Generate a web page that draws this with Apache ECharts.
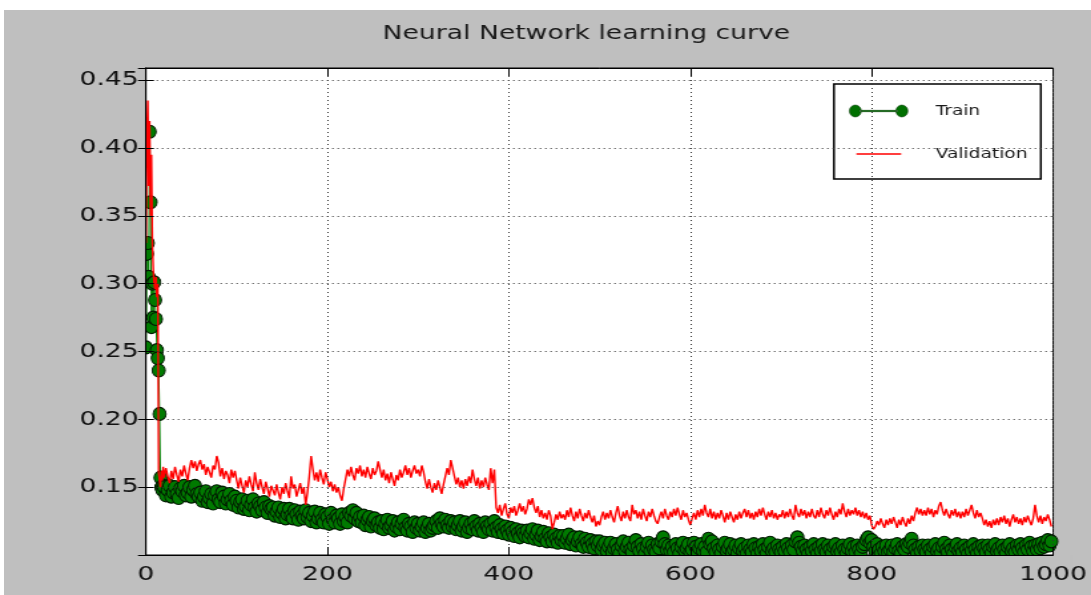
<!DOCTYPE html>
<html><head><meta charset="utf-8">
<script src="https://cdn.jsdelivr.net/npm/echarts@6/dist/echarts.min.js"></script>
<style>html,body{margin:0;padding:0;background:#fff;width:1091px;height:595px;overflow:hidden}
#c{position:absolute;left:4px;top:10px;width:817px;height:585px;transform:scaleX(1.33048);transform-origin:0 0}</style>
</head><body><div id="c"></div><script>
const epochs=[0,1,2,3,4,5,6,7,8,9,10,11,12,13,14,15,16,17,18,19,
20,22,24,26,28,30,32,34,36,38,40,42,44,46,48,50,52,54,56,58,
60,62,64,66,68,70,72,74,76,78,80,82,84,86,88,90,92,94,96,98,
100,102,104,106,108,110,112,114,116,118,120,122,124,126,128,130,132,134,136,138,
140,142,144,146,148,150,152,154,156,158,160,162,164,166,168,170,172,174,176,178,
180,182,184,186,188,190,192,194,196,198,200,202,204,206,208,210,212,214,216,218,
220,222,224,226,228,230,232,234,236,238,240,242,244,246,248,250,252,254,256,258,
260,262,264,266,268,270,272,274,276,278,280,282,284,286,288,290,292,294,296,298,
300,302,304,306,308,310,312,314,316,318,320,322,324,326,328,330,332,334,336,338,
340,342,344,346,348,350,352,354,356,358,360,362,364,366,368,370,372,374,376,378,
380,382,384,386,388,390,392,394,396,398,400,402,404,406,408,410,412,414,416,418,
420,422,424,426,428,430,432,434,436,438,440,442,444,446,448,450,452,454,456,458,
460,462,464,466,468,470,472,474,476,478,480,482,484,486,488,490,492,494,496,498,
500,502,504,506,508,510,512,514,516,518,520,522,524,526,528,530,532,534,536,538,
540,542,544,546,548,550,552,554,556,558,560,562,564,566,568,570,572,574,576,578,
580,582,584,586,588,590,592,594,596,598,600,602,604,606,608,610,612,614,616,618,
620,622,624,626,628,630,632,634,636,638,640,642,644,646,648,650,652,654,656,658,
660,662,664,666,668,670,672,674,676,678,680,682,684,686,688,690,692,694,696,698,
700,702,704,706,708,710,712,714,716,718,720,722,724,726,728,730,732,734,736,738,
740,742,744,746,748,750,752,754,756,758,760,762,764,766,768,770,772,774,776,778,
780,782,784,786,788,790,792,794,796,798,800,802,804,806,808,810,812,814,816,818,
820,822,824,826,828,830,832,834,836,838,840,842,844,846,848,850,852,854,856,858,
860,862,864,866,868,870,872,874,876,878,880,882,884,886,888,890,892,894,896,898,
900,902,904,906,908,910,912,914,916,918,920,922,924,926,928,930,932,934,936,938,
940,942,944,946,948,950,952,954,956,958,960,962,964,966,968,970,972,974,976,978,
980,982,984,986,988,990,992,994,996,998];

const trainLoss=[0.253,0.322,0.330,0.305,0.412,0.360,0.268,0.300,0.275,0.301,0.288,0.274,0.251,0.245,0.236,0.204,0.157,0.150,0.148,0.151,
0.150,0.144,0.148,0.151,0.143,0.146,0.150,0.145,0.142,0.149,0.147,0.151,0.144,0.146,0.150,0.143,0.148,0.151,0.145,0.143,
0.146,0.140,0.143,0.147,0.139,0.142,0.145,0.138,0.144,0.147,0.141,0.139,0.146,0.143,0.138,0.141,0.145,0.140,0.137,0.143,
0.140,0.135,0.139,0.141,0.134,0.136,0.140,0.133,0.137,0.141,0.135,0.132,0.138,0.136,0.133,0.139,0.135,0.131,0.136,0.134,
0.135,0.129,0.132,0.135,0.128,0.131,0.134,0.127,0.130,0.134,0.129,0.127,0.133,0.130,0.126,0.132,0.129,0.127,0.133,0.128,
0.131,0.125,0.129,0.132,0.124,0.127,0.131,0.126,0.124,0.130,0.128,0.123,0.131,0.126,0.124,0.129,0.127,0.123,0.130,0.125,
0.128,0.124,0.131,0.129,0.133,0.127,0.131,0.125,0.128,0.124,0.129,0.122,0.126,0.128,0.121,0.125,0.127,0.122,0.124,0.120,
0.125,0.119,0.123,0.126,0.120,0.122,0.125,0.118,0.121,0.124,0.119,0.123,0.126,0.120,0.118,0.123,0.121,0.117,0.124,0.120,
0.123,0.118,0.121,0.124,0.117,0.120,0.123,0.118,0.120,0.122,0.125,0.120,0.127,0.123,0.121,0.126,0.122,0.120,0.125,0.121,
0.124,0.119,0.122,0.125,0.118,0.121,0.124,0.117,0.120,0.123,0.119,0.125,0.121,0.118,0.123,0.120,0.117,0.124,0.121,0.119,
0.123,0.118,0.125,0.120,0.117,0.122,0.119,0.116,0.121,0.118,0.115,0.120,0.117,0.114,0.119,0.116,0.113,0.118,0.116,0.114,
0.118,0.113,0.116,0.119,0.112,0.115,0.118,0.111,0.114,0.117,0.112,0.110,0.116,0.113,0.110,0.115,0.112,0.109,0.114,0.111,
0.114,0.109,0.112,0.115,0.108,0.111,0.113,0.107,0.110,0.113,0.108,0.106,0.112,0.109,0.106,0.111,0.108,0.105,0.110,0.107,
0.110,0.104,0.107,0.109,0.103,0.106,0.109,0.102,0.105,0.108,0.104,0.101,0.107,0.110,0.103,0.106,0.109,0.104,0.102,0.107,
0.111,0.106,0.103,0.108,0.105,0.101,0.106,0.109,0.103,0.107,0.104,0.102,0.108,0.105,0.110,0.113,0.108,0.104,0.107,0.103,
0.106,0.102,0.108,0.105,0.101,0.106,0.109,0.103,0.105,0.108,0.102,0.104,0.109,0.106,0.101,0.105,0.108,0.103,0.106,0.102,
0.112,0.108,0.110,0.105,0.102,0.107,0.104,0.101,0.106,0.109,0.103,0.105,0.108,0.102,0.104,0.107,0.101,0.105,0.108,0.103,
0.105,0.101,0.107,0.104,0.102,0.108,0.105,0.101,0.106,0.103,0.108,0.104,0.101,0.106,0.109,0.103,0.105,0.102,0.107,0.104,
0.102,0.106,0.103,0.108,0.105,0.102,0.107,0.104,0.110,0.113,0.109,0.106,0.103,0.107,0.104,0.101,0.106,0.103,0.108,0.104,
0.101,0.106,0.103,0.108,0.104,0.102,0.107,0.104,0.101,0.106,0.108,0.103,0.105,0.102,0.107,0.104,0.101,0.105,0.108,0.103,
0.106,0.102,0.107,0.104,0.101,0.106,0.108,0.111,0.113,0.109,0.111,0.106,0.103,0.108,0.104,0.101,0.106,0.103,0.107,0.102,
0.104,0.107,0.102,0.105,0.108,0.103,0.101,0.106,0.104,0.108,0.106,0.109,0.112,0.107,0.104,0.101,0.106,0.103,0.107,0.104,
0.102,0.107,0.104,0.101,0.106,0.108,0.103,0.105,0.101,0.106,0.109,0.104,0.102,0.107,0.104,0.101,0.106,0.108,0.103,0.105,
0.102,0.107,0.104,0.101,0.106,0.103,0.108,0.104,0.101,0.106,0.103,0.107,0.105,0.102,0.107,0.104,0.101,0.106,0.108,0.103,
0.105,0.102,0.107,0.104,0.101,0.106,0.108,0.103,0.105,0.102,0.107,0.104,0.108,0.105,0.102,0.107,0.104,0.109,0.106,0.103,
0.107,0.104,0.108,0.105,0.109,0.106,0.108,0.111,0.107,0.110];

const valLoss=[0.330,0.410,0.435,0.372,0.420,0.350,0.395,0.330,0.310,0.300,0.296,0.305,0.290,0.300,0.160,0.155,0.150,0.162,0.155,0.165,
0.157,0.164,0.158,0.153,0.162,0.156,0.165,0.159,0.154,0.163,0.158,0.166,0.160,0.155,0.164,0.170,0.164,0.169,0.162,0.167,
0.170,0.163,0.167,0.159,0.165,0.161,0.157,0.166,0.163,0.173,0.168,0.158,0.164,0.156,0.162,0.159,0.153,0.163,0.157,0.162,
0.155,0.149,0.157,0.151,0.146,0.155,0.150,0.158,0.152,0.147,0.161,0.153,0.148,0.156,0.150,0.145,0.154,0.149,0.143,0.151,
0.150,0.144,0.152,0.146,0.141,0.150,0.145,0.153,0.147,0.142,0.158,0.149,0.152,0.143,0.148,0.153,0.145,0.150,0.137,0.146,
0.158,0.173,0.163,0.155,0.161,0.154,0.163,0.157,0.152,0.161,0.156,0.150,0.154,0.147,0.152,0.146,0.150,0.144,0.140,0.149,
0.156,0.163,0.158,0.165,0.159,0.155,0.164,0.160,0.166,0.158,0.163,0.157,0.165,0.160,0.156,0.164,0.159,0.162,0.169,0.163,
0.157,0.163,0.155,0.160,0.153,0.161,0.156,0.151,0.159,0.155,0.163,0.157,0.161,0.166,0.159,0.164,0.157,0.162,0.166,0.160,
0.163,0.158,0.166,0.161,0.154,0.149,0.156,0.150,0.146,0.153,0.148,0.155,0.150,0.145,0.152,0.158,0.164,0.159,0.170,0.164,
0.158,0.152,0.157,0.150,0.155,0.149,0.156,0.151,0.158,0.153,0.163,0.156,0.151,0.157,0.149,0.155,0.150,0.157,0.152,0.148,
0.164,0.153,0.163,0.135,0.131,0.137,0.129,0.134,0.138,0.130,0.127,0.135,0.131,0.136,0.129,0.133,0.138,0.132,0.136,0.130,
0.134,0.141,0.137,0.142,0.135,0.131,0.136,0.128,0.133,0.127,0.131,0.126,0.133,0.129,0.119,0.124,0.130,0.126,0.132,0.127,
0.130,0.126,0.133,0.128,0.135,0.129,0.125,0.132,0.127,0.134,0.129,0.125,0.131,0.127,0.133,0.128,0.124,0.129,0.121,0.125,
0.122,0.128,0.132,0.126,0.131,0.127,0.133,0.128,0.124,0.131,0.136,0.129,0.125,0.132,0.127,0.133,0.128,0.125,0.137,0.130,
0.133,0.127,0.132,0.126,0.134,0.129,0.125,0.132,0.128,0.134,0.129,0.125,0.123,0.128,0.132,0.127,0.134,0.129,0.126,0.132,
0.128,0.134,0.129,0.135,0.130,0.126,0.133,0.128,0.131,0.126,0.122,0.127,0.131,0.126,0.133,0.128,0.134,0.129,0.137,0.131,
0.128,0.134,0.127,0.132,0.126,0.131,0.127,0.133,0.129,0.124,0.131,0.126,0.132,0.128,0.124,0.130,0.126,0.132,0.127,0.131,
0.134,0.128,0.133,0.127,0.131,0.126,0.132,0.128,0.134,0.129,0.135,0.130,0.126,0.132,0.128,0.133,0.127,0.131,0.126,0.130,
0.128,0.133,0.127,0.132,0.128,0.134,0.129,0.126,0.137,0.131,0.128,0.134,0.129,0.133,0.127,0.132,0.128,0.134,0.129,0.127,
0.133,0.128,0.135,0.130,0.127,0.133,0.129,0.135,0.130,0.126,0.132,0.128,0.134,0.130,0.138,0.132,0.128,0.134,0.129,0.133,
0.130,0.135,0.129,0.133,0.128,0.132,0.127,0.131,0.126,0.129,0.122,0.119,0.121,0.125,0.122,0.127,0.123,0.120,0.126,0.122,
0.127,0.123,0.128,0.124,0.120,0.126,0.122,0.128,0.124,0.121,0.127,0.123,0.129,0.125,0.131,0.135,0.130,0.134,0.129,0.133,
0.129,0.135,0.130,0.134,0.128,0.133,0.130,0.136,0.139,0.133,0.129,0.134,0.130,0.127,0.133,0.129,0.134,0.128,0.132,0.127,
0.132,0.128,0.134,0.129,0.133,0.137,0.131,0.127,0.133,0.128,0.131,0.127,0.122,0.126,0.121,0.125,0.120,0.126,0.122,0.127,
0.122,0.128,0.124,0.129,0.123,0.127,0.121,0.126,0.130,0.124,0.128,0.123,0.127,0.122,0.128,0.124,0.129,0.125,0.122,0.127,
0.137,0.129,0.124,0.129,0.123,0.128,0.125,0.130,0.126,0.121];

const xTicks=[0,200,400,600,800,1000];
const yTicks=[0.15,0.20,0.25,0.30,0.35,0.40,0.45];
const titleText='Neural Network learning curve';
const seriesNames=['Train','Validation'];

// The reference picture is stretched horizontally; the chart is drawn in a narrower box and scaled by CSS.
const W=817,H=585;
const FONT='DejaVu Sans';
const GRID={left:106.7,right:24.8,top:58,bottom:40};
const grayMask='#bfbfbf';
const twoDots='path://M0,6a4.5,6 0 1,0 9,0a4.5,6 0 1,0 -9,0ZM35,6a4.5,6 0 1,0 9,0a4.5,6 0 1,0 -9,0ZM8,5.3L36,5.3L36,6.7L8,6.7Z';
const redLine='path://M0,6L0.01,6L0.01,6.01ZM5.3,5.3L39,5.3L39,6.7L5.3,6.7ZM44,6L43.99,6L43.99,6.01Z';
const yLabel=v=>{const k=v*20;return (Math.abs(k-Math.round(k))<1e-6&&v>0.12&&v<0.455)?v.toFixed(2):'';};
const dotted={color:'#333',type:[1,3],width:1};
const chart=echarts.init(document.getElementById('c'),null,{renderer:'canvas',width:W,height:H});
chart.setOption({
  animation:false,
  backgroundColor:'#bfbfbf',
  title:{text:titleText,left:279.6,top:9,textStyle:{fontFamily:FONT,fontSize:20,fontWeight:'normal',color:'#1a1a1a'}},
  grid:Object.assign({show:true,backgroundColor:'#fff',borderColor:'#000',borderWidth:1,containLabel:false},GRID),
  legend:{orient:'vertical',left:623.8,top:74,backgroundColor:'#fff',borderColor:'#000',borderWidth:1.5,borderRadius:0,
    padding:[20,10,18,11.3],itemGap:29,itemWidth:44,itemHeight:12,
    textStyle:{fontFamily:FONT,fontSize:14,lineHeight:14,color:'#1a1a1a',padding:[0,0,0,15.8]},
    data:[{name:seriesNames[0],icon:twoDots,itemStyle:{color:'#007000',borderColor:'#003000',borderWidth:0.5}},
          {name:seriesNames[1],icon:redLine,itemStyle:{color:'#ff0000'}}]},
  xAxis:[{type:'value',min:xTicks[0],max:xTicks[xTicks.length-1],interval:200,position:'bottom',z:10,
     axisLine:{show:true,lineStyle:{color:'#000',width:1}},
     axisTick:{show:true,inside:true,length:8,lineStyle:{color:'#000'}},
     axisLabel:{fontFamily:FONT,fontSize:20,color:'#111',margin:10,formatter:v=>String(v)},
     splitLine:{show:true,lineStyle:dotted}},
    {type:'value',min:xTicks[0],max:xTicks[xTicks.length-1],interval:200,position:'top',z:10,
     axisLine:{show:true,lineStyle:{color:'#000'}},
     axisTick:{show:true,inside:true,length:8,lineStyle:{color:'#000'}},
     axisLabel:{show:false},splitLine:{show:false}}],
  yAxis:[{type:'value',min:0.1,max:0.459,interval:0.05,position:'left',z:10,
     axisLine:{show:true,lineStyle:{color:'#000',width:1}},
     axisTick:{show:true,inside:true,length:6,lineStyle:{color:'#000'}},
     axisLabel:{fontFamily:FONT,fontSize:20,color:'#111',margin:5.5,formatter:yLabel,showMinLabel:true,showMaxLabel:true},
     splitLine:{show:true,lineStyle:dotted}},
    {type:'value',min:0.1,max:0.459,interval:0.05,position:'right',z:10,
     axisLine:{show:true,lineStyle:{color:'#000'}},
     axisTick:{show:true,inside:true,length:6,lineStyle:{color:'#000'}},
     axisLabel:{show:false},splitLine:{show:false}}],
  graphic:[
    {type:'rect',z:5,silent:true,shape:{x:GRID.left-10,y:H-GRID.bottom,width:W-GRID.left-GRID.right+20,height:12},style:{fill:grayMask}},
    {type:'rect',z:5,silent:true,shape:{x:GRID.left-10,y:GRID.top,width:10,height:H-GRID.top-GRID.bottom},style:{fill:grayMask}}
  ],
  series:[
    {name:seriesNames[0],type:'line',xAxisIndex:0,yAxisIndex:0,z:2,
     data:epochs.map((e,i)=>[e,trainLoss[i]]),
     symbol:'circle',symbolSize:[9.8,13],showSymbol:true,showAllSymbol:true,
     lineStyle:{color:'#008000',width:1},
     itemStyle:{color:'#007a00',borderColor:'#001800',borderWidth:1}},
    {name:seriesNames[1],type:'line',xAxisIndex:0,yAxisIndex:0,z:3,
     data:epochs.map((e,i)=>[e,valLoss[i]]),
     showSymbol:false,symbol:'none',
     lineStyle:{color:'#ff0000',width:1.4},itemStyle:{color:'#ff0000'}}
  ]
});
</script></body></html>
